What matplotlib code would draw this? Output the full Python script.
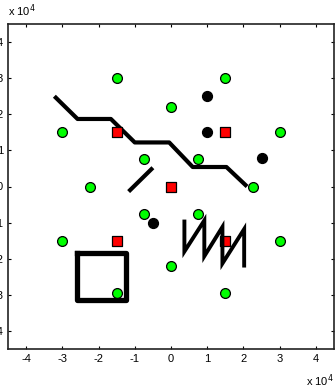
import numpy as np
import matplotlib
matplotlib.use('Agg')
import matplotlib.pyplot as plt

plt.rcParams['font.family'] = ['Liberation Sans', 'DejaVu Sans']

# marker positions (units of 1e4)
green_x = [-1.5, 1.5, 0.0, -3.0, 3.0, -0.75, 0.75, -2.25, 2.25,
           -0.75, 0.75, -3.0, 3.0, 0.0, -1.5, 1.5]
green_y = [3.0, 3.0, 2.2, 1.5, 1.5, 0.75, 0.75, 0.0, 0.0,
           -0.75, -0.75, -1.5, -1.5, -2.2, -2.95, -2.95]

black_x = [1.0, 1.0, 2.5, -0.5]
black_y = [2.5, 1.5, 0.8, -1.0]

red_x = [-1.5, 1.5, 0.0, -1.5, 1.5]
red_y = [1.5, 1.5, 0.0, -1.5, -1.5]

# stepped track
stair_x = [-3.22, -2.58, -1.66, -1.0, -0.05, 0.6, 1.53, 2.1]
stair_y = [2.5, 1.87, 1.87, 1.22, 1.22, 0.54, 0.54, 0.0]

# short diagonal stroke
diag_x = [-1.17, -0.5]
diag_y = [-0.14, 0.52]

# box
box_x = [-2.6, -1.25, -1.25, -2.6, -2.6]
box_y = [-1.83, -1.83, -3.13, -3.13, -1.83]

# sawtooth
saw_x = [0.37, 0.37, 0.92, 0.92, 1.42, 1.42, 2.02, 2.02]
saw_y = [-0.97, -1.8, -0.94, -1.93, -1.12, -2.13, -1.18, -2.19]

ticks = [-4, -3, -2, -1, 0, 1, 2, 3, 4]

fig = plt.figure(figsize=(3.36, 3.91), dpi=100)
ax = fig.add_axes([8 / 336, 42 / 391, 326 / 336, 325 / 391])

ax.plot(stair_x, stair_y, color='black', lw=3.0, solid_capstyle='butt', zorder=2)
ax.plot(diag_x, diag_y, color='black', lw=3.0, solid_capstyle='butt', zorder=2)
ax.plot(box_x, box_y, color='black', lw=3.8, solid_joinstyle='round', zorder=2)

ax.scatter(green_x, green_y, s=50, color='#00ff00', edgecolors='black', linewidths=0.9, zorder=3)
ax.scatter(black_x, black_y, s=50, color='black', edgecolors='black', zorder=3)
ax.scatter(red_x, red_y, s=50, marker='s', color='#ff0000', edgecolors='black', linewidths=0.9, zorder=3)

ax.plot(saw_x, saw_y, color='black', lw=2.8, solid_joinstyle='miter', zorder=4)

ax.set_xlim(-4.5, 4.5)
ax.set_ylim(-4.5, 4.5)
ax.set_xticks(ticks)
ax.set_yticks(ticks)
ax.set_xticklabels([str(t) for t in ticks])
ax.set_yticklabels([str(t) for t in ticks])
ax.tick_params(direction='in', length=2.5, width=0.8, top=True, right=True,
               labelsize=8, pad=3.5, colors='black')
for sp in ax.spines.values():
    sp.set_linewidth(1.2)
    sp.set_color('#222222')

# exponent labels
fig.text(8 / 336, 1 - 16 / 391, r'x 10$^{4}$', fontsize=8, ha='left', va='baseline')
fig.text(334 / 336, 1 - 386 / 391, r'x 10$^{4}$', fontsize=8, ha='right', va='baseline')

fig.savefig('out.png', dpi=100)
